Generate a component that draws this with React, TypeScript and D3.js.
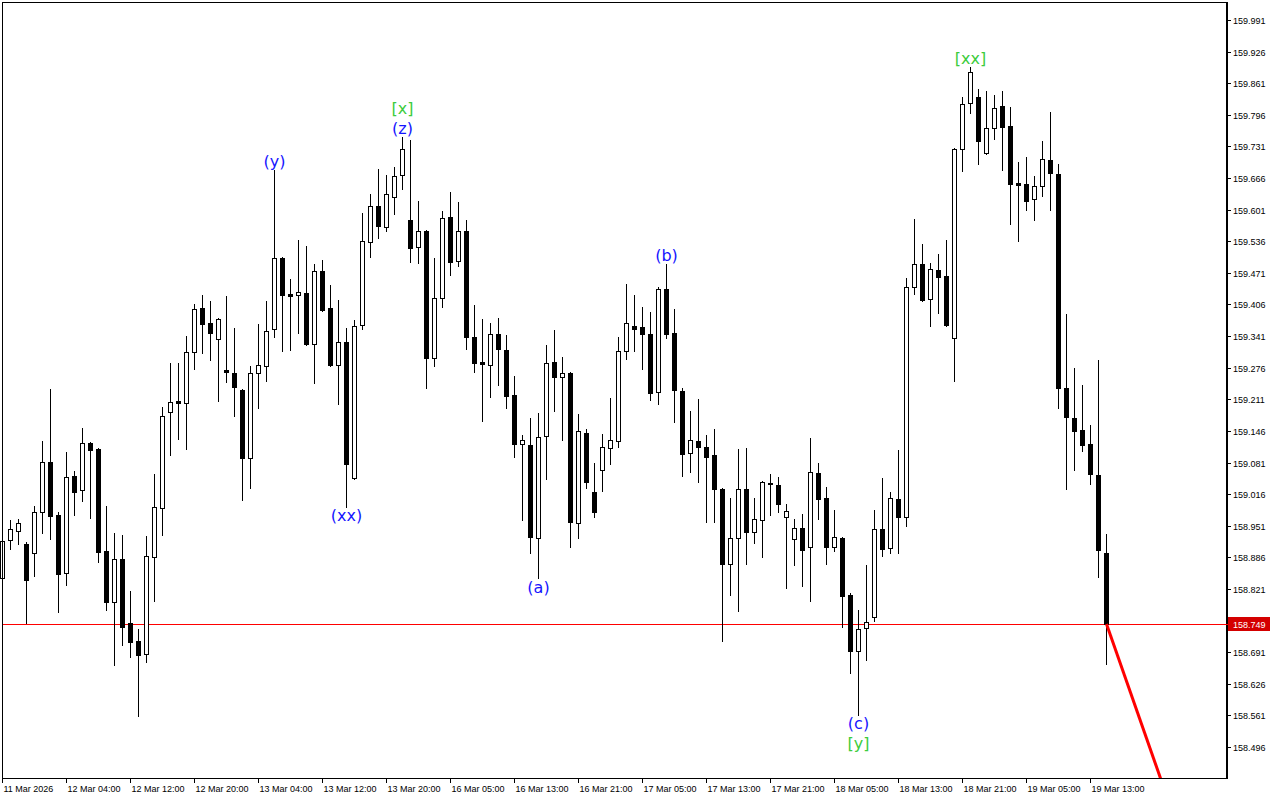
import React from "react";
import * as d3 from "d3";

// ---------- DATA (hourly candles, 11 Mar 20:00 -> 19 Mar 15:00) ----------
const open = [
  158.843, 158.922, 158.940, 158.913, 158.895, 158.979, 159.082, 158.973, 158.854, 159.053,
  159.024, 159.121, 159.109, 158.899, 158.794, 158.883, 158.751, 158.714, 158.687, 158.887,
  158.987, 159.185, 159.207, 159.203, 159.308, 159.399, 159.368, 159.335, 159.271, 159.265,
  159.230, 159.090, 159.265, 159.279, 159.356, 159.502, 159.428, 159.425, 159.430, 159.325,
  159.475, 159.399, 159.282, 159.329, 159.049, 159.364, 159.534, 159.608, 159.565, 159.627,
  159.672, 159.580, 159.524, 159.557, 159.296, 159.419, 159.586, 159.495, 159.557, 159.339,
  159.288, 159.282, 159.345, 159.312, 159.220, 159.119, 159.117, 158.926, 159.136, 159.288,
  159.257, 159.265, 158.957, 159.142, 159.020, 159.066, 159.111, 159.125, 159.310, 159.362,
  159.360, 159.345, 159.226, 159.438, 159.347, 159.228, 159.101, 159.125, 159.113, 159.096,
  159.027, 158.872, 158.926, 159.027, 158.938, 158.963, 159.039, 159.035, 158.969, 158.924,
  158.946, 158.907, 159.059, 159.008, 158.907, 158.926, 158.809, 158.693, 158.741, 158.763,
  158.944, 158.905, 159.006, 158.969, 159.442, 159.489, 159.417, 159.477, 159.464, 159.337,
  159.726, 159.820, 159.833, 159.717, 159.769, 159.814, 159.773, 159.656, 159.654, 159.623,
  159.650, 159.703, 159.674, 159.234, 159.173, 159.148, 159.119, 159.055, 158.895,
];
const high = [
  158.942, 158.963, 158.965, 158.917, 158.992, 159.125, 159.232, 158.979, 159.103, 159.064,
  159.152, 159.123, 159.111, 158.992, 158.936, 158.932, 158.817, 158.739, 158.930, 159.057,
  159.195, 159.286, 159.286, 159.341, 159.407, 159.425, 159.413, 159.378, 159.423, 159.358,
  159.232, 159.279, 159.366, 159.413, 159.682, 159.504, 159.458, 159.539, 159.526, 159.489,
  159.497, 159.446, 159.415, 159.358, 159.374, 159.594, 159.633, 159.685, 159.672, 159.689,
  159.750, 159.744, 159.619, 159.559, 159.502, 159.598, 159.637, 159.617, 159.580, 159.405,
  159.376, 159.368, 159.378, 159.343, 159.259, 159.138, 159.173, 159.183, 159.323, 159.353,
  159.298, 159.267, 159.181, 159.150, 159.080, 159.140, 159.214, 159.339, 159.448, 159.425,
  159.401, 159.391, 159.442, 159.489, 159.397, 159.234, 159.187, 159.212, 159.138, 159.150,
  159.029, 159.008, 159.109, 159.111, 159.008, 159.043, 159.057, 159.051, 158.996, 158.965,
  158.975, 159.131, 159.080, 159.031, 158.983, 158.928, 158.813, 158.778, 158.870, 158.983,
  159.049, 159.020, 159.107, 159.460, 159.582, 159.530, 159.491, 159.510, 159.539, 159.728,
  159.833, 159.894, 159.849, 159.845, 159.837, 159.845, 159.812, 159.699, 159.709, 159.670,
  159.742, 159.802, 159.695, 159.386, 159.275, 159.240, 159.158, 159.292, 158.934,
];
const low = [
  158.839, 158.903, 158.913, 158.751, 158.847, 158.936, 158.924, 158.773, 158.829, 158.973,
  159.002, 158.967, 158.876, 158.778, 158.664, 158.706, 158.681, 158.560, 158.671, 158.796,
  158.932, 159.097, 159.129, 159.109, 159.273, 159.306, 159.292, 159.207, 159.247, 159.177,
  159.004, 159.029, 159.193, 159.249, 159.339, 159.310, 159.312, 159.347, 159.322, 159.245,
  159.393, 159.279, 159.201, 158.990, 159.047, 159.356, 159.504, 159.543, 159.557, 159.592,
  159.643, 159.493, 159.491, 159.234, 159.279, 159.401, 159.467, 159.485, 159.314, 159.267,
  159.166, 159.216, 159.240, 159.193, 159.092, 158.962, 158.895, 158.843, 159.047, 159.187,
  159.127, 158.907, 158.926, 159.029, 158.969, 159.022, 159.078, 159.113, 159.294, 159.310,
  159.273, 159.210, 159.201, 159.337, 159.164, 159.053, 159.061, 159.041, 158.959, 158.959,
  158.714, 158.809, 158.776, 158.872, 158.915, 158.887, 158.973, 158.979, 158.823, 158.870,
  158.827, 158.796, 158.965, 158.872, 158.899, 158.743, 158.648, 158.562, 158.675, 158.755,
  158.889, 158.895, 158.895, 158.950, 159.428, 159.413, 159.362, 159.388, 159.362, 159.249,
  159.680, 159.800, 159.695, 159.715, 159.746, 159.682, 159.571, 159.536, 159.600, 159.580,
  159.629, 159.600, 159.193, 159.027, 159.066, 159.105, 159.037, 158.845, 158.667,
];
const close = [
  158.920, 158.944, 158.957, 158.839, 158.979, 159.082, 158.971, 158.852, 159.051, 159.020,
  159.121, 159.107, 158.897, 158.794, 158.883, 158.743, 158.712, 158.685, 158.889, 158.990,
  159.177, 159.205, 159.203, 159.308, 159.397, 159.366, 159.347, 159.376, 159.267, 159.236,
  159.090, 159.265, 159.282, 159.351, 159.502, 159.425, 159.423, 159.432, 159.325, 159.475,
  159.395, 159.282, 159.329, 159.078, 159.362, 159.536, 159.608, 159.567, 159.633, 159.670,
  159.726, 159.522, 159.557, 159.296, 159.419, 159.584, 159.493, 159.557, 159.339, 159.286,
  159.284, 159.345, 159.314, 159.218, 159.119, 159.127, 158.928, 159.133, 159.286, 159.257,
  159.265, 158.959, 159.146, 159.041, 158.979, 159.113, 159.127, 159.310, 159.368, 159.356,
  159.345, 159.224, 159.438, 159.345, 159.230, 159.098, 159.127, 159.113, 159.092, 159.027,
  158.872, 158.926, 159.027, 158.938, 158.965, 159.041, 159.037, 158.996, 158.981, 158.946,
  158.901, 159.062, 159.006, 158.907, 158.928, 158.807, 158.693, 158.739, 158.753, 158.944,
  158.903, 159.008, 158.969, 159.442, 159.489, 159.415, 159.479, 159.462, 159.364, 159.726,
  159.818, 159.884, 159.742, 159.769, 159.810, 159.771, 159.654, 159.652, 159.619, 159.650,
  159.705, 159.676, 159.234, 159.175, 159.146, 159.117, 159.057, 158.901, 158.749,
];

const timeLabels = [
  "11 Mar 2026", "12 Mar 04:00", "12 Mar 12:00", "12 Mar 20:00", "13 Mar 04:00",
  "13 Mar 12:00", "13 Mar 20:00", "16 Mar 05:00", "16 Mar 13:00", "16 Mar 21:00",
  "17 Mar 05:00", "17 Mar 13:00", "17 Mar 21:00", "18 Mar 05:00", "18 Mar 13:00",
  "18 Mar 21:00", "19 Mar 05:00", "19 Mar 13:00",
];
const timeLabelStep = 8;

const priceTicks = [
  159.991, 159.926, 159.861, 159.796, 159.731, 159.666, 159.601, 159.536, 159.471, 159.406,
  159.341, 159.276, 159.211, 159.146, 159.081, 159.016, 158.951, 158.886, 158.821, 158.756,
  158.691, 158.626, 158.561, 158.496,
];

const currentPrice = 158.749;
// projection line: [index, price]
const projection = [
  [138, 158.749],
  [145, 158.42],
];

const BLUE = "#1515ff";
const GREEN = "#3ccc3c";
const waveLabels = [
  { i: 34, text: "(y)", color: BLUE, pos: "above", row: 0 },
  { i: 43, text: "(xx)", color: BLUE, pos: "below", row: 0 },
  { i: 50, text: "(z)", color: BLUE, pos: "above", row: 0 },
  { i: 50, text: "[x]", color: GREEN, pos: "above", row: 1 },
  { i: 67, text: "(a)", color: BLUE, pos: "below", row: 0 },
  { i: 83, text: "(b)", color: BLUE, pos: "above", row: 0 },
  { i: 107, text: "(c)", color: BLUE, pos: "below", row: 0 },
  { i: 107, text: "[y]", color: GREEN, pos: "below", row: 1 },
  { i: 121, text: "[xx]", color: GREEN, pos: "above", row: 0 },
];

// ---------- LAYOUT ----------
const W = 1280;
const H = 800;
const plot = { left: 2, top: 2, right: 1226, bottom: 778 };

export default function App() {
  const n = open.length;
  const x = d3.scaleLinear().domain([0, n - 1]).range([2.5, 2.5 + 8 * (n - 1)]);
  const y = d3
    .scaleLinear()
    .domain([158.496, 159.991])
    .range([747, 20]);

  const py = (p: number) => Math.round(y(p));
  const axisFont = "'Liberation Sans', Arial, sans-serif";

  const lineGen = d3
    .line<number[]>()
    .x((d) => x(d[0]))
    .y((d) => y(d[1]));

  const cpY = py(currentPrice) + 0.5;

  return (
    <svg
      width={W}
      height={H}
      style={{ position: "absolute", left: 0, top: 0, background: "#fff" }}
      fontFamily={axisFont}
    >
      <defs>
        <clipPath id="plotClip">
          <rect x={plot.left} y={plot.top} width={plot.right - plot.left} height={plot.bottom - plot.top} />
        </clipPath>
      </defs>
      <rect x={0} y={0} width={W} height={H} fill="#fff" />

      {/* current price line */}
      <line x1={plot.left} x2={plot.right} y1={cpY} y2={cpY} stroke="#ff0000" strokeWidth={1} />

      {/* candles */}
      <g shapeRendering="crispEdges">
        {open.map((o, i) => {
          const c = close[i];
          const cx = x(i);
          const bull = c > o;
          const yTop = py(Math.max(o, c));
          const yBot = py(Math.min(o, c));
          return (
            <g key={i}>
              <line x1={cx} x2={cx} y1={py(high[i])} y2={py(low[i]) + 1} stroke="#000" strokeWidth={1} />
              <rect
                x={cx - 2.5 + 0.5}
                y={yTop + 0.5}
                width={4}
                height={Math.max(yBot - yTop, 0)}
                fill={bull ? "#fff" : "#000"}
                stroke="#000"
                strokeWidth={1}
              />
            </g>
          );
        })}
      </g>

      {/* projection line */}
      <g clipPath="url(#plotClip)">
        <path d={lineGen(projection as number[][]) || ""} stroke="#ff0000" strokeWidth={3} fill="none" />
      </g>

      {/* wave labels */}
      {waveLabels.map((w, k) => {
        const ty =
          w.pos === "above"
            ? y(high[w.i]) - 9 - w.row * 20
            : y(low[w.i]) + 9 + w.row * 20;
        return (
          <text
            key={k}
            x={x(w.i)}
            y={ty}
            fill={w.color}
            fontSize={16}
            fontFamily="'DejaVu Sans', sans-serif"
            textAnchor="middle"
            dominantBaseline="central"
          >
            {w.text}
          </text>
        );
      })}

      {/* frame */}
      <g shapeRendering="crispEdges">
        <line x1={plot.left + 0.5} x2={plot.left + 0.5} y1={plot.top} y2={plot.bottom} stroke="#000" />
        <line x1={plot.left} x2={plot.right} y1={plot.top + 0.5} y2={plot.top + 0.5} stroke="#000" />
        <line x1={plot.left} x2={plot.right + 1} y1={plot.bottom + 0.5} y2={plot.bottom + 0.5} stroke="#000" />
        <line x1={plot.right + 0.5} x2={plot.right + 0.5} y1={plot.top} y2={plot.bottom + 1} stroke="#000" strokeWidth={2} />
      </g>

      {/* right price axis */}
      <g>
        {priceTicks.map((p) => {
          const ty = py(p) + 0.5;
          const hidden = Math.abs(ty - cpY) < 12;
          return (
            <g key={p}>
              <line x1={plot.right} x2={plot.right + 5} y1={ty} y2={ty} stroke="#000" shapeRendering="crispEdges" />
              {!hidden && (
                <text x={plot.right + 7} y={ty} fontSize={9} fill="#000" dominantBaseline="central">
                  {p.toFixed(3)}
                </text>
              )}
            </g>
          );
        })}
        <line x1={plot.right} x2={plot.right + 3} y1={cpY} y2={cpY} stroke="#ff0000" shapeRendering="crispEdges" />
        <rect x={plot.right + 2} y={cpY - 7.5} width={42} height={14} fill="#d40000" />
        <text x={plot.right + 7} y={cpY} fontSize={9} fill="#fff" dominantBaseline="central">
          {currentPrice.toFixed(3)}
        </text>
      </g>

      {/* bottom time axis */}
      <g>
        {timeLabels.map((t, k) => {
          const tx = Math.floor(x(k * timeLabelStep)) + 0.5;
          return (
            <g key={t}>
              <line x1={tx} x2={tx} y1={plot.bottom} y2={plot.bottom + 5} stroke="#000" shapeRendering="crispEdges" />
              <text x={tx + 1} y={792} fontSize={9} fill="#000">
                {t}
              </text>
            </g>
          );
        })}
      </g>
    </svg>
  );
}
